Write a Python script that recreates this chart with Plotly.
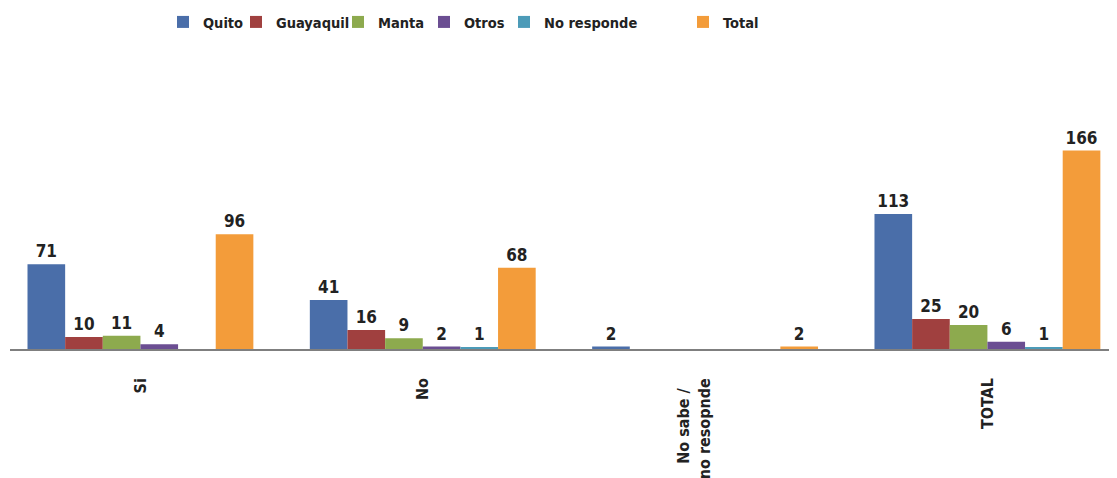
import plotly.graph_objects as go

categories = ["Si", "No", "No sabe /&nbsp;&nbsp;<br>no resopnde<br>&nbsp;", "TOTAL"]
series_names = ["Quito", "Guayaquil", "Manta", "Otros", "No responde", "Total"]
quito = [71, 41, 2, 113]
guayaquil = [10, 16, None, 25]
manta = [11, 9, None, 20]
otros = [4, 2, None, 6]
no_responde = [None, 1, None, 1]
total = [96, 68, 2, 166]

values = [quito, guayaquil, manta, otros, no_responde, total]
colors = ["#4A6EA9", "#A0403F", "#8DAA4E", "#6B4E92", "#4C9BB8", "#F39C3A"]
swatch_left_px = [177, 250, 352, 438, 518, 697]

# page body has an 8px default margin, so the figure is 8px smaller
OFF = 8
W, H = 1117 - OFF, 478 - OFF
FONT = "DejaVu Sans Condensed, Liberation Sans Narrow, sans-serif"

fig = go.Figure()
layout_legends = {}
for i, (name, vals, col) in enumerate(zip(series_names, values, colors)):
    lg = "legend" if i == 0 else f"legend{i+1}"
    fig.add_trace(go.Bar(
        name=name, x=categories, y=vals,
        marker=dict(color=col, line=dict(width=0)),
        text=[("" if v is None else str(v)) for v in vals],
        textposition="outside",
        textfont=dict(family=FONT, size=17, color="#222222", weight="bold"),
        cliponaxis=False,
        legend=lg,
        showlegend=True,
    ))
    layout_legends[lg] = dict(
        visible=True,
        xref="container", yref="container",
        x=(swatch_left_px[i] - OFF - 14) / W, y=1 - (22 - OFF) / H,
        xanchor="left", yanchor="middle",
        orientation="h",
        font=dict(family=FONT, size=14.5, color="#222222", weight="bold"),
        bgcolor="rgba(0,0,0,0)",
    )

fig.update_layout(
    width=W, height=H,
    showlegend=True,
    margin=dict(l=2, r=0, t=52, b=129, autoexpand=False),
    paper_bgcolor="white", plot_bgcolor="white",
    barmode="group", bargap=0.2, bargroupgap=0,
    font=dict(family=FONT, size=16, color="#222222"),
    **layout_legends,
)
fig.update_xaxes(
    type="category", range=[-0.462, 3.459], automargin=False,
    showline=True, linecolor="#7f7f7f", linewidth=1.5,
    showgrid=False, ticks="", tickangle=-90, ticklabelstandoff=21,
    tickfont=dict(family=FONT, size=16, color="#222222", weight="bold"),
)
fig.update_yaxes(range=[0, 241.8], visible=False, showgrid=False,
                 zeroline=False, automargin=False)

fig.write_html("out.html")
